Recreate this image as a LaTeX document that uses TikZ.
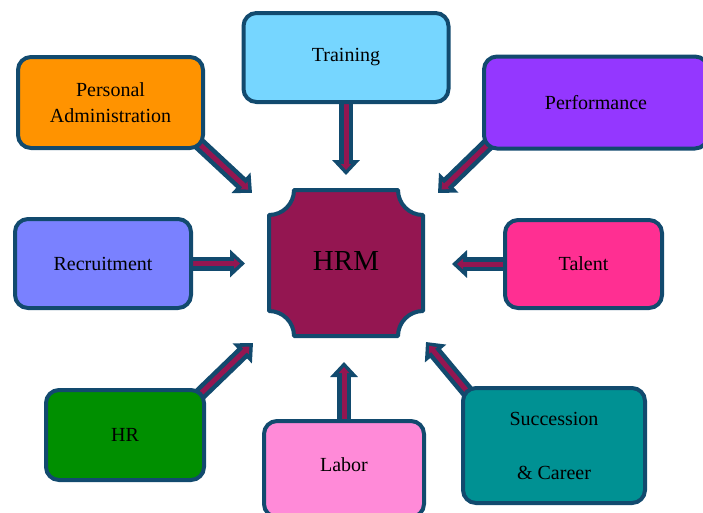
\documentclass[tikz,border=0pt]{standalone}
\usepackage{fontspec}
\setmainfont{Liberation Serif}
\usetikzlibrary{arrows.meta,calc,backgrounds}

\definecolor{bord}{HTML}{124A6E}
\definecolor{plum}{HTML}{941651}
\definecolor{skyc}{HTML}{76D6FF}
\definecolor{orangec}{HTML}{FF9300}
\definecolor{grapec}{HTML}{9437FF}
\definecolor{periwinkle}{HTML}{7A81FF}
\definecolor{magentac}{HTML}{FF2F92}
\definecolor{cloverc}{HTML}{008F00}
\definecolor{carnation}{HTML}{FF8AD8}
\definecolor{tealc}{HTML}{009193}

% two-pass connector: dark outline with a plum core
\newcommand\hrmlink[2]{%
  \draw[linkout] #1 -- #2;
  \draw[linkin] #1 -- #2;}

\begin{document}
\begin{tikzpicture}[x=1pt,y=-1pt,
  font=\fontsize{20}{26}\selectfont,
  box/.style={draw=bord, line width=4pt, rounded corners=13pt,
    inner sep=0pt, align=center, text=black},
  linkout/.style={draw=bord, line width=14pt,
    -{Triangle[length=15pt,width=27pt]}},
  linkin/.style={draw=plum, line width=5pt, shorten >=5pt,
    -{Triangle[length=6pt,width=10pt]}}]
\useasboundingbox (0,0) rectangle (703,512);

% central plaque with concave corners
\def\pL{269}\def\pR{423}\def\pT{190}\def\pB{336}\def\pr{25}
\draw[bord, fill=plum, line width=4pt, line join=round]
  (\pL+\pr,\pT) -- (\pR-\pr,\pT)
  arc[start angle=180, end angle=90, radius=\pr]
  -- (\pR,\pB-\pr)
  arc[start angle=270, end angle=180, radius=\pr]
  -- (\pL+\pr,\pB)
  arc[start angle=0, end angle=-90, radius=\pr]
  -- (\pL,\pT+\pr)
  arc[start angle=90, end angle=0, radius=\pr]
  -- cycle;
\node[font=\fontsize{29}{34}\selectfont] (hrm) at (346,261) {HRM};

% surrounding boxes
\node[box, fill=skyc, minimum width=205pt, minimum height=89pt] (tr) at (346,57.5) {Training};
\node[box, fill=orangec, minimum width=185pt, minimum height=91pt] (pa) at (110.5,102.5) {Personal\\Administration};
\node[box, fill=grapec, minimum width=224pt, minimum height=92pt] (pe) at (596,102.5) {Performance};
\node[box, fill=periwinkle, minimum width=176pt, minimum height=89pt] (re) at (103,263.5) {Recruitment};
\node[box, fill=magentac, minimum width=157pt, minimum height=88pt] (ta) at (583.5,264) {Talent};
\node[box, fill=cloverc, minimum width=158pt, minimum height=90pt] (hr) at (125,435) {HR};
\node[box, fill=carnation, minimum width=160pt, minimum height=96pt, text height=13.6pt, text depth=8.4pt] (la) at (344,469) {Labor};
\node[box, fill=tealc, minimum width=182pt, minimum height=115pt] (su) at (554,445.5) {Succession\\[28pt]\& Career};

% arrow tips pointing at the plaque
\coordinate (tTr) at (346,175);
\coordinate (tPa) at (252,193);
\coordinate (tPe) at (438,193);
\coordinate (tRe) at (245,263.5);
\coordinate (tTa) at (452,264);
\coordinate (tHr) at (253,343);
\coordinate (tLa) at (344,362);
\coordinate (tSu) at (426,342);

\begin{pgfonlayer}{background}
  \hrmlink{(tr.south)}{(tTr)}
  \hrmlink{($(pa.south east)+(-10,-10)$)}{(tPa)}
  \hrmlink{($(pe.south west)+(10,-10)$)}{(tPe)}
  \hrmlink{(re.east)}{(tRe)}
  \hrmlink{(ta.west)}{(tTa)}
  \hrmlink{($(hr.north east)+(-10,10)$)}{(tHr)}
  \hrmlink{(la.north)}{(tLa)}
  \hrmlink{($(su.north west)+(10,10)$)}{(tSu)}
\end{pgfonlayer}
\end{tikzpicture}
\end{document}
